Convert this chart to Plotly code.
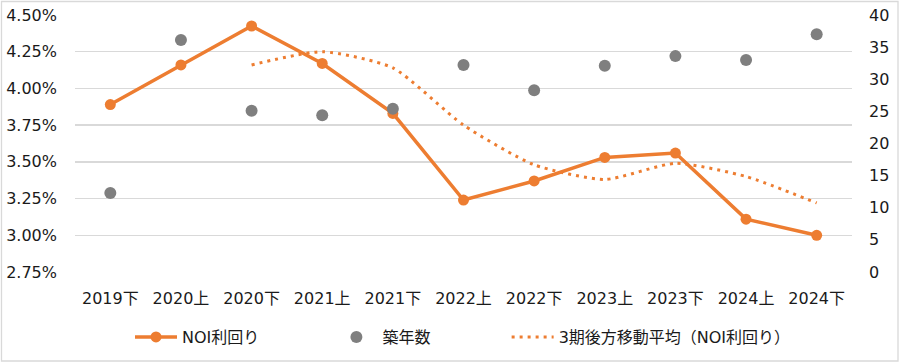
import plotly.graph_objects as go

categories = ["2019下", "2020上", "2020下", "2021上", "2021下", "2022上",
              "2022下", "2023上", "2023下", "2024上", "2024下"]
noi_yield = [3.89, 4.16, 4.425, 4.17, 3.83, 3.24, 3.37, 3.53, 3.56, 3.11, 3.00]
building_age = [12.3, 36.1, 25.1, 24.4, 25.4, 32.2, 28.3, 32.1, 33.6, 33.0, 37.0]
moving_avg_cats = categories[2:]
moving_avg = [4.16, 4.25, 4.14, 3.75, 3.48, 3.38, 3.49, 3.40, 3.22]

left_ticks = [2.75, 3.00, 3.25, 3.50, 3.75, 4.00, 4.25, 4.50]
left_ticktext = ["2.75%", "3.00%", "3.25%", "3.50%", "3.75%", "4.00%", "4.25%", "4.50%"]
right_ticks = [0, 5, 10, 15, 20, 25, 30, 35, 40]

ORANGE = "#ED7D31"
GRAY = "#7F7F7F"
FONT = "DejaVu Sans, Noto Sans CJK JP, sans-serif"
NB = "\u00a0"

fig = go.Figure()

fig.add_trace(go.Scatter(
    x=categories, y=noi_yield, name="NOI利回り" + NB * 13, mode="lines+markers",
    line=dict(color=ORANGE, width=3.5),
    marker=dict(color=ORANGE, size=11),
    yaxis="y",
))
fig.add_trace(go.Scatter(
    x=categories, y=building_age, name="築年数" + NB * 14, mode="markers",
    marker=dict(color=GRAY, size=12),
    yaxis="y2",
))
fig.add_trace(go.Scatter(
    x=moving_avg_cats, y=moving_avg, name="3期後方移動平均（NOI利回り）", mode="lines",
    line=dict(color=ORANGE, width=3, dash="3px,5px", shape="spline", smoothing=0.6),
    yaxis="y",
))

W, H = 900, 364
L, T = 75, 15
pw, ph = 777, 257
R = W - L - pw
B = H - T - ph

def px_x(sx):
    return (sx - L) / pw

def px_y(sy):
    return (T + ph - sy) / ph

border = dict(color="#D9D9D9", width=1.3)

fig.update_layout(
    width=W, height=H,
    margin=dict(l=L, r=R, t=T, b=B, autoexpand=False),
    paper_bgcolor="white", plot_bgcolor="white",
    font=dict(family=FONT, size=16, color="#1a1a1a"),
    showlegend=True,
    hovermode=False,
    legend=dict(orientation="h", x=px_x(130), xanchor="left",
                y=px_y(337), yanchor="middle",
                font=dict(size=16, color="#1a1a1a"),
                itemwidth=42, traceorder="normal"),
    xaxis=dict(
        type="category", categoryorder="array", categoryarray=categories,
        range=[-0.5, len(categories) - 0.5], automargin=False,
        showgrid=False, zeroline=False, showline=False,
        ticks="", ticklabelstandoff=15,
        tickfont=dict(size=16),
    ),
    yaxis=dict(
        range=[2.75, 4.5], tickvals=left_ticks, ticktext=left_ticktext,
        showgrid=True, gridcolor="#D9D9D9", gridwidth=1.3, automargin=False,
        zeroline=False, showline=False, ticks="", ticklabelstandoff=17,
        tickfont=dict(size=16),
    ),
    yaxis2=dict(
        range=[0, 40], tickvals=right_ticks, overlaying="y", side="right",
        showgrid=False, zeroline=False, showline=False, ticks="", automargin=False,
        ticklabelstandoff=16, tickfont=dict(size=16),
    ),
    shapes=[dict(
        type="rect", xref="paper", yref="paper",
        x0=px_x(1.5), x1=px_x(898), y0=px_y(361), y1=px_y(1.5),
        line=border, fillcolor="rgba(0,0,0,0)", layer="below",
    )],
)

fig.write_html(
    "out.html",
    config={"displayModeBar": False, "staticPlot": True},
    post_script="document.body.style.margin='0';document.body.style.overflow='hidden';",
)
